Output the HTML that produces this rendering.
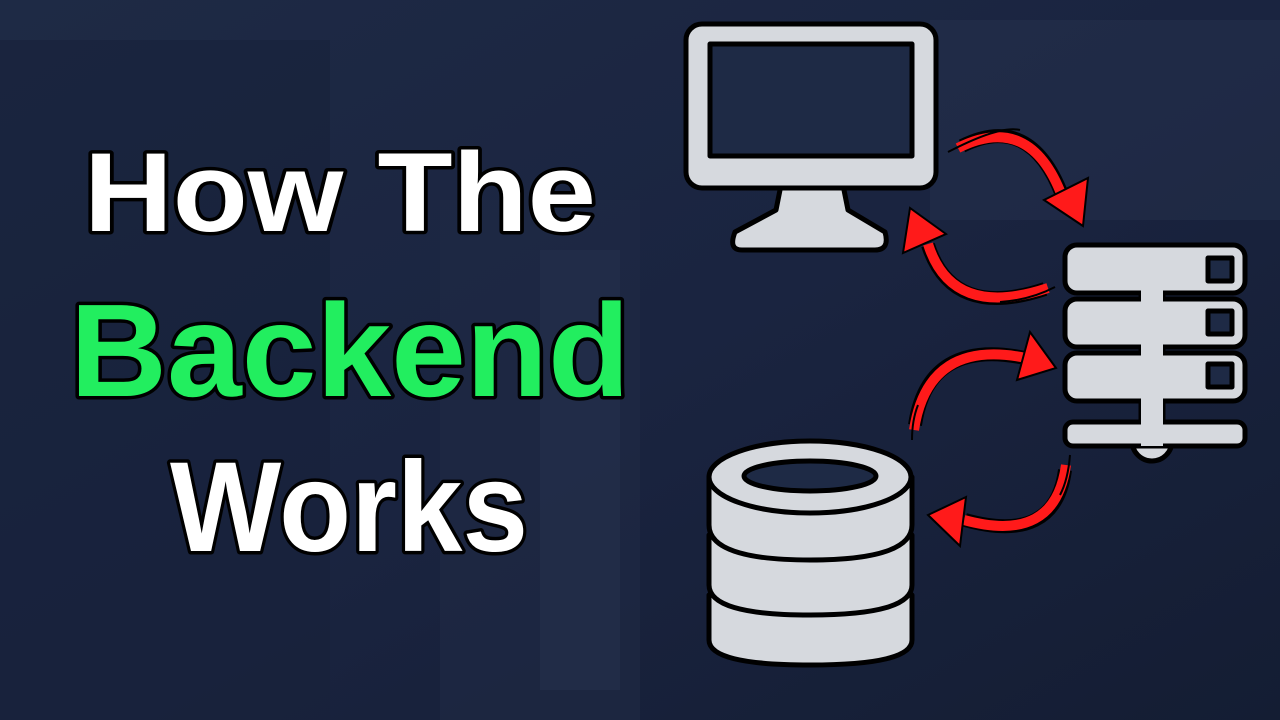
<!DOCTYPE html>
<html><head><meta charset="utf-8"><style>
html,body{margin:0;padding:0;width:1280px;height:720px;overflow:hidden;background:#1b2640}
</style></head><body>
<svg width="1280" height="720" viewBox="0 0 1280 720" xmlns="http://www.w3.org/2000/svg">
<defs>
<linearGradient id="bg" x1="0" y1="0" x2="1" y2="1">
<stop offset="0" stop-color="#1e2a45"/><stop offset="0.5" stop-color="#1a2440"/><stop offset="1" stop-color="#141d33"/>
</linearGradient>
</defs>
<rect width="1280" height="720" fill="url(#bg)"/>
<rect x="0" y="40" width="330" height="680" fill="#18223a" opacity="0.6"/>
<rect x="440" y="200" width="200" height="520" fill="#1f2a44" opacity="0.6"/>
<rect x="540" y="250" width="80" height="440" fill="#26324d" opacity="0.5"/>
<rect x="930" y="20" width="350" height="200" fill="#2a3652" opacity="0.35"/>

<g font-family="Liberation Sans, sans-serif" font-weight="bold" text-anchor="start" stroke="#000" stroke-width="7" paint-order="stroke" stroke-linejoin="round">
<text x="84" y="231" font-size="112" textLength="512" lengthAdjust="spacingAndGlyphs" fill="#fff">How The</text>
<text x="70" y="396" font-size="132" textLength="560" lengthAdjust="spacingAndGlyphs" fill="#22ee5f">Backend</text>
<text x="170" y="551" font-size="128" textLength="358" lengthAdjust="spacingAndGlyphs" fill="#fff">Works</text>
</g>

<g stroke="#000" stroke-width="5" fill="#d6d9de" stroke-linejoin="round">
<path d="M782 180 L842 180 L848 210 L885 232 Q890 250 875 250 L742 250 Q728 250 735 232 L776 210 Z"/>
<rect x="686" y="24" width="250" height="164" rx="16"/>
<rect x="710" y="44" width="202" height="112" fill="#1e2a45"/>
<rect x="1141" y="280" width="22" height="150"/>
<circle cx="1152" cy="441" r="20"/>
<rect x="1065" y="245" width="180" height="48" rx="12"/>
<rect x="1065" y="299" width="180" height="48" rx="12"/>
<rect x="1065" y="353" width="180" height="48" rx="12"/>
<rect x="1065" y="422" width="180" height="24" rx="8"/>
<rect x="1141" y="285" width="22" height="20" stroke="none"/>
<rect x="1141" y="339" width="22" height="20" stroke="none"/>
<rect x="1141" y="393" width="22" height="34" stroke="none"/>
<rect x="1141" y="440" width="22" height="6" stroke="none"/>
<rect x="1208" y="258" width="24" height="23" fill="#1e2a45"/>
<rect x="1208" y="311" width="24" height="23" fill="#1e2a45"/>
<rect x="1208" y="364" width="24" height="23" fill="#1e2a45"/>
<path d="M709 595 L709 640 Q709 665 810 665 Q912 665 912 640 L912 595 Z"/>
<path d="M709 535 L709 585 Q709 615 810 615 Q912 615 912 585 L912 535 Z"/>
<path d="M709 477 L709 525 Q709 560 810 560 Q912 560 912 525 L912 477 Z"/>
<ellipse cx="810" cy="477" rx="101" ry="36"/>
<ellipse cx="810" cy="476" rx="66" ry="15" fill="#1e2a45"/>
</g>

<g fill="none" stroke="#000" stroke-width="14">
<path d="M962 146 Q1030 112 1062 195"/>
<path d="M1045 289 Q952 320 928 245"/>
<path d="M915 425 Q928 338 1025 358"/>
<path d="M1065 470 Q1055 545 965 520"/>
</g>
<g fill="none" stroke="#ff1a1a" stroke-width="10">
<path d="M958 148 Q1030 112 1062 196"/>
<path d="M1048 288 Q952 320 928 244"/>
<path d="M914 430 Q928 338 1026 358"/>
<path d="M1066 465 Q1055 545 964 520"/>
</g>
<g fill="none" stroke="#000" stroke-width="2">
<path d="M948 152 Q1000 125 1020 130"/>
<path d="M1055 287 Q1030 300 1000 302"/>
<path d="M912 440 Q912 420 918 405"/>
<path d="M1070 455 Q1068 480 1060 495"/>
</g>
<g fill="#ff1a1a" stroke="#000" stroke-width="2" stroke-linejoin="miter">
<polygon points="1083,226 1044,200 1088,178"/>
<polygon points="910,208 903,253 946,234"/>
<polygon points="1056,368 1030,332 1017,380"/>
<polygon points="928,515 966,497 960,546"/>
</g>
</svg>
</body></html>
